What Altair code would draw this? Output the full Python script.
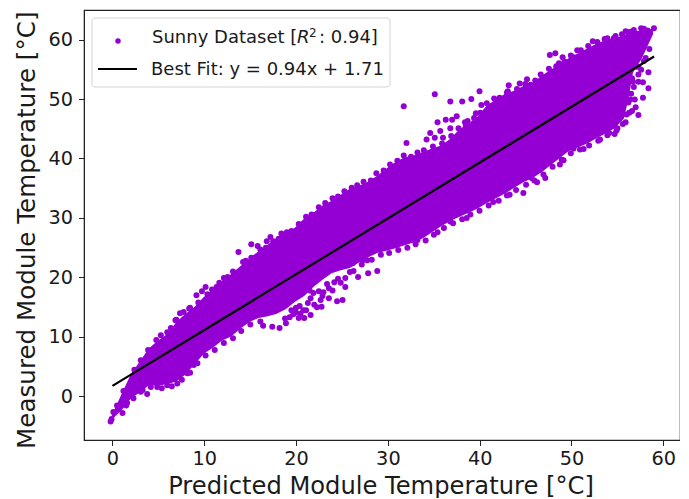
import altair as alt
import pandas as pd

COLOR = "#9400D3"
FONT = "DejaVu Sans"

# dense core of the cloud, read as lower / upper envelope per predicted value
core_x = [-0.1,1,2,3,4,5,6,7,8,9,10,11,12,13,14,15,16,17,18,19,20,21,22,23,24,25,26,27,28,29,30,31,32,33,34,35,36,37,38,39,40,41,42,43,44,45,46,47,48,49,50,51,52,53,54,55,56,56.5,57,58,59.2]
core_lo = [-3.8,-2.2,-0.3,0.8,2,1.9,2.2,2.6,3.8,5.5,7.3,8.3,9.5,10.2,11.5,12.6,13.3,13.6,14,14.8,16,17,18.5,19.7,20.8,21.3,21.7,22.6,23.5,24.2,24.6,25,25.5,26,26.7,27.7,28.7,29.6,30.3,31,31.7,32.6,33.4,34.2,35.2,36.1,36.8,37.8,39,40.2,41.4,42,42.6,43.5,44.3,45.2,46.8,50,54.5,57,61]
core_hi = [-3.2,0.5,3.8,6,8.2,9.5,10.6,12.6,14,15.2,16.8,18,19.5,20.7,22,23.3,24.5,25.6,26.8,27.5,28.5,30,31,32.2,33,34,35,35.5,36.2,37.2,38.4,39.5,40.3,40.6,41.2,41.8,42.3,43.4,45,46,47.2,49,50,51,51.5,52.3,52.8,54,55,56,57,57.8,58.6,59.4,60,60.3,60.8,61.2,61.5,61.6,61.9]

# individual scatter points: outliers
pred = [17.5,18.3,16.5,19,20.4,21,21.7,22.4,21.7,23.7,24.6,25.2,22,23.7,24.3,25.5,25.5,25,26.9,28,29,26,27.9,27.4,26.3,20.9,20.5,19.8,22.8,23,
        19.6,20.1,21.2,22.1,22.9,21.4,20.6,23.1,24.1,22.6,21.6,18.9,19.4,20.1,23.5,24.7,
        3.8,3.1,1.1,1.6,-0.1,-0.2,0.1,0.5,4.9,6,7.1,8.2,8.9,
        13.8,15.2,15.9,18.5,17.3,16.9,15.7,14.3,10.2,9.8,9.2,8.5,7.4,7,6,12.2,11.4,
        31.9,35.3,37,38.3,39.3,40.2,40.4,32.2,34.4,35.6,36.5,37.2,37.7,38.6,39.8,34.8,35.9,37,36.2,35.3,38.7,43.4,44.6,45.4,47.1,43.3,44,45,45.8,47.9,48.5,49.3,48.9,49.8,50.5,50.9,52.6,54.2,54.9,56.2,57.1,57.9,59.3,58.6,57.8,57.5,57.5,
        58.7,58.1,57.6,56.9,57.3,58.1,58.7,57.6,57.1,56.2,55.3,55,54.4,53.4,51.6,50.5,49.4,49,47.4,46.5,45.9,45,43.5,41.7,38.8,37,35.6,33.4,
        56.5,56.8,57.2,56.9,57.6,57.9,58.4,58.8,57.3,56.6]
meas = [11.8,11.6,12,12.4,13.3,13.3,13.8,15.1,16.6,16.6,16.1,16.3,17.5,18.3,19.3,18.5,20,19.2,20.2,20.8,21.2,21,23,23,22.5,14.6,15.3,13.9,16.3,17,
        14.6,14.2,14.6,15.5,15.2,15.8,14,17.6,17.9,17.8,17.9,13.2,13.4,15,19,19.9,
        0.5,0.9,-2.7,-1,-3.7,-4.1,-2.5,-1.4,1.7,2,2.3,4,5.4,
        24.4,25.7,25.4,27.5,26.9,26.2,23.5,22.7,18.5,17.8,17.1,15,14.1,13,10.9,20,18.5,
        48.9,50.9,49.7,49.7,50.1,51.4,49.1,42.7,43.3,46.2,46.6,46.6,47.2,46.2,47.7,44.4,44.7,45.2,43.6,43.6,45.5,52.4,52.7,53.4,53.4,51.4,50.6,51.2,52.5,57.5,57.8,57.1,56.1,55.8,57.1,58.3,59.8,60.3,60.3,61.5,61.7,62,62,61.6,60.8,58.6,57.2,
        51.9,50.3,47.4,48.1,48.7,52.9,54.6,54.2,52.1,46.2,45.2,44.2,44.4,43.3,41.7,41.8,39.8,39.1,36.8,36.1,36.8,34.3,34,32.8,30.1,29.5,27.7,26.4,
        49.5,51,50,53.6,53,55,57,58.5,55.5,47.8]

# points along the upper side of the cloud
upper_x = [1.2,2.4,3.1,3.9,4.8,5.3,6.4,6.9,7.8,8.4,9.4,10.4,10.9,11.7,12.6,13.2,14.6,15.2,16.2,16.8,17.6,18.2,19.1,19.6,20.4,21.2,21.8,22.6,23.3,24.1,24.7,25.4,26.2,26.8,27.5,28.3,28.9,29.7,30.4,31.2,31.9,32.7,33.4,34.1,35.1,36.1,37.1,37.9,38.9,39.6,40.3,41,41.8,42.4,43.2,44.3,45.2,46.3,46.9,47.8,48.6,49.5,50.2,51.3,52.1,53.1,53.9,55.1,55.8,56.7,58.2]
upper_y = [1.0,4.6,6.2,7.9,9.6,10.4,11.6,12.9,14.3,14.9,15.9,17.3,18.1,19.2,20.2,21.1,22.9,23.4,24.8,25.1,26.2,26.6,27.7,27.9,29.1,30.3,30.7,31.9,32.6,33.4,33.7,34.6,35.2,35.6,36.2,36.4,37.6,38.1,39.1,39.7,40.6,40.4,41.1,41.5,42.1,42.6,43.9,45.2,46.4,46.9,47.8,49.4,50.2,50.3,51.2,51.8,52.6,53.2,54.2,55.2,55.6,56.4,57.4,58.3,59,59.7,60.2,60.7,61,61.4,61.9]

# points along the lower side of the cloud
lower_x = [1.5,2.3,3.3,4.2,5.4,6.5,7.6,8.5,9.3,10.2,11.2,12.2,13.2,14.1,15.1,16.2,26.4,27.3,28.4,29.4,30.3,31.3,32.3,33.2,34.3,35.2,36.3,37.3,38.3,39.2,40.2,41.2,42.3,43.2,44.2,45.3,46.2,47.2,48.2,49.2,50.2,51.2,52.2,53.2,54.2,55.2,55.9,56.3,56.7,57,57.6,58.2]
lower_y = [-1.4,-0.2,1.2,1.7,1.5,1.8,2.9,4.1,5.7,7.0,7.9,9.1,9.9,11.1,12.2,12.7,21.2,22.3,23.1,23.9,24.2,24.7,25.1,25.7,26.3,27.3,28.4,29.2,29.9,30.7,31.3,32.2,33,33.9,34.8,35.7,36.4,37.4,38.7,39.9,41,41.6,42.3,43.1,44,44.8,45.9,47.5,50,53,55.5,56.5]

fit_x = [0, 59]
fit_y = [1.71, 57.17]

# first readings used a slightly off ruler; these two factors recalibrate them to the ticks
X_CAL = 0.9946
Y_CAL, Y_OFF = 1.0017, -0.17

xs = alt.Scale(domain=[-3.1, 61.82], nice=False, zero=False)
ys = alt.Scale(domain=[-7.4, 65.0], nice=False, zero=False)
x_ticks = [0,10,20,30,40,50,60]
y_ticks = [0,10,20,30,40,50,60]

xax = alt.X("x:Q", scale=xs, axis=alt.Axis(values=x_ticks, title="Predicted Module Temperature [°C]",
    titleFontSize=24.2, titleX=296.5, titleY=53, titleBaseline="alphabetic", titleAlign="center"))
yax = alt.Y("y:Q", scale=ys, axis=alt.Axis(values=y_ticks, title="Measured Module Temperature [°C]",
    titleFontSize=24.6, titleX=-49.7, titleY=219.7, titleBaseline="alphabetic", titleAlign="center", labelPadding=6))

core = alt.Chart(pd.DataFrame({
    "x": [v * X_CAL for v in core_x],
    "y": [v * Y_CAL + Y_OFF for v in core_lo],
    "y2": [v * Y_CAL + Y_OFF for v in core_hi],
})).mark_area(color=COLOR, interpolate="linear").encode(x=xax, y=yax, y2="y2:Q")
all_x = pred + upper_x + lower_x
all_y = meas + upper_y + lower_y
pts = alt.Chart(pd.DataFrame({
    "x": [v * X_CAL for v in all_x],
    "y": [v * Y_CAL + Y_OFF for v in all_y],
})).mark_circle(color=COLOR, size=36, opacity=1).encode(x=xax, y=yax)
fit = alt.Chart(pd.DataFrame({"x": fit_x, "y": fit_y})).mark_line(color="black", strokeWidth=2.2).encode(x=xax, y=yax)

# legend drawn in the plot's pixel space (offset from plot corner at 84,10)
def v(n):
    return alt.value(n)

box = alt.Chart(pd.DataFrame({"a": [0]})).mark_rect(fill="white", stroke="#d4d4d4", strokeWidth=1, cornerRadius=3).encode(
    x=v(8), x2=v(306), y=v(8), y2=v(77))
dot = alt.Chart(pd.DataFrame({"a": [0]})).mark_circle(color=COLOR, size=30, opacity=1).encode(x=v(34), y=v(31))
lin = alt.Chart(pd.DataFrame({"a": [0]})).mark_rule(color="black", strokeWidth=2.2).encode(x=v(14), x2=v(53), y=v(59))

def txt(s, px, py, size=18, style="normal"):
    return alt.Chart(pd.DataFrame({"a": [0]})).mark_text(
        text=s, align="left", baseline="alphabetic", font=FONT, fontSize=size, fontStyle=style, color="#1a1a1a"
    ).encode(x=v(px), y=v(py))

labels = [
    txt("Sunny Dataset [", 68, 33),
    txt("R", 213, 33, style="italic"),
    txt("2", 225, 27, size=12),
    txt(": 0.94]", 235, 33),
    txt("Best Fit: y = 0.94x + 1.71", 67, 65),
]

chart = alt.layer(core, pts, fit, box, dot, lin, *labels).properties(
    width=596, height=430,
    background="white",
    padding={"left": 76, "top": 2, "right": 0, "bottom": 58},
    autosize=alt.AutoSizeParams(type="none"),
).configure_view(stroke="#222222", strokeWidth=1.2).configure_axis(
    grid=False, tickColor="#222222", domainColor="#222222", tickSize=5.5, tickWidth=1,
    labelFont=FONT, titleFont=FONT, labelFontSize=19.3,
    labelColor="#1a1a1a", titleColor="#1a1a1a", titleFontWeight="normal", labelPadding=4,
)

chart.save("out.html", embed_options={"renderer": "svg", "actions": False})
